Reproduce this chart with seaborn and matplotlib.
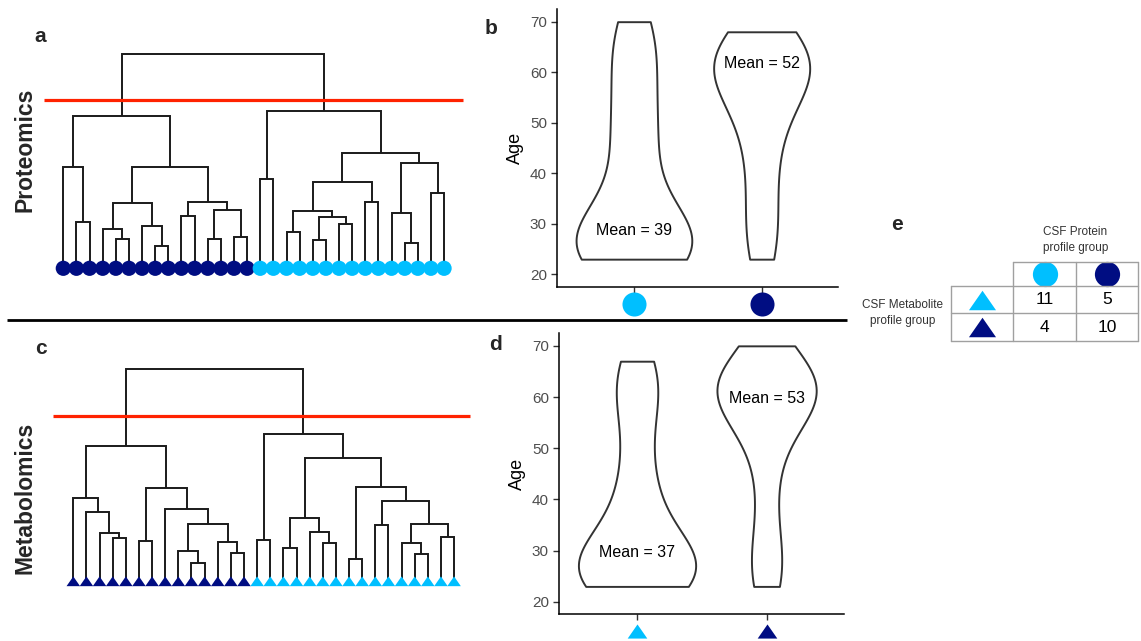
import numpy as np
import pandas as pd
import matplotlib
matplotlib.use("Agg")
import matplotlib.pyplot as plt
import matplotlib.transforms as mtransforms
import seaborn as sns

# ---------------- data ----------------
# Proteomics dendrogram (panel a): linkage rows [left, right, height]; leaves 0..29 in display order
prot_linkage = [
    [1, 2, 46], [0, 30, 101], [4, 5, 29.3], [3, 32, 39.3], [7, 8, 22.7],
    [6, 34, 42.7], [33, 35, 65], [9, 10, 52.7], [11, 12, 29.3], [13, 14, 31.7],
    [38, 39, 58.3], [37, 40, 66.7], [36, 41, 101.7], [31, 42, 152.3], [15, 16, 89.3],
    [17, 18, 36], [19, 20, 28.3], [21, 22, 44], [46, 47, 51], [45, 48, 57.3],
    [23, 24, 66], [49, 50, 86], [26, 27, 25], [25, 52, 55], [28, 29, 75],
    [53, 54, 105], [51, 55, 115], [44, 56, 157.3], [43, 57, 214],
]
prot_leaf_group = ["dark"] * 15 + ["light"] * 15
prot_cut = 168

# Metabolomics dendrogram (panel c)
met_linkage = [
    [3, 4, 43], [2, 30, 48.7], [1, 31, 69], [0, 32, 83], [5, 6, 40.3],
    [9, 10, 18], [8, 35, 30.3], [12, 13, 28.7], [11, 37, 39.7], [36, 38, 57],
    [7, 39, 72], [34, 40, 93.7], [33, 41, 135.7], [14, 15, 41.3], [16, 17, 33.7],
    [19, 20, 38], [18, 45, 49.7], [44, 46, 63], [21, 22, 22], [23, 24, 56.7],
    [26, 27, 27.3], [25, 50, 38.7], [28, 29, 44], [51, 52, 57], [49, 53, 80.3],
    [48, 54, 94.7], [47, 55, 123.7], [43, 56, 147.3], [42, 57, 212.3],
]
met_leaf_group = ["dark"] * 14 + ["light"] * 16
met_cut = 165.7

# Ages per group (panels b and d)
prot_light_age = [23, 23, 24, 25, 26, 27, 28, 31, 36, 43, 48, 53, 60, 65, 70]
prot_dark_age = [23, 28, 34, 41, 47, 52, 55, 58, 60, 61, 62, 63, 64, 65, 68]
met_light_age = [23, 23, 24, 25, 26, 27, 28, 29, 31, 35, 40, 45, 53, 60, 63, 67]
met_dark_age = [23, 27, 34, 44, 52, 56, 58, 60, 61, 62, 63, 64, 66, 70]

group_order = ["light", "dark"]
age_ticks = [20, 30, 40, 50, 60, 70]

# Contingency table (panel e): rows = metabolite group, cols = protein group
table_counts = [[11, 5], [4, 10]]
table_col_title = "CSF Protein\nprofile group"
table_row_title = "CSF Metabolite\nprofile group"

# ---------------- style ----------------
LIGHT = "#00BFFF"
DARK = "#000D82"
RED = "#FF2200"
LINE = "#1A1A1A"
colors = {"light": LIGHT, "dark": DARK}

sns.set_style("ticks")
plt.rcParams["font.family"] = ["Liberation Sans", "DejaVu Sans"]

W, H = 1141, 641
fig = plt.figure(figsize=(W / 100, H / 100), dpi=100)
fig.patch.set_facecolor("white")


def add_px_axes(left, top, width, height):
    return fig.add_axes([left / W, 1 - (top + height) / H, width / W, height / H])


tri_verts = [(-1, -0.72), (1, -0.72), (0, 0.72), (-1, -0.72)]


def nrd0_factor(kde):
    """Silverman's rule of thumb (R's bw.nrd0) expressed as a gaussian_kde factor."""
    d = np.asarray(kde.dataset).ravel()
    sd = np.std(d, ddof=1)
    q1, q3 = np.percentile(d, [25, 75])
    lo = min(sd, (q3 - q1) / 1.34)
    return 0.9 * lo * len(d) ** (-0.2) / sd


def draw_dendro(ax, linkage, groups, cut, cut_x, marker, msize):
    n = len(groups)
    xs = {i: float(i) for i in range(n)}
    hs = {i: 0.0 for i in range(n)}
    for k, (a, b, h) in enumerate(linkage):
        xa, xb = xs[a], xs[b]
        ax.plot([xa, xa, xb, xb], [hs[a], h, h, hs[b]], color=LINE, lw=1.4,
                solid_joinstyle="miter", solid_capstyle="butt", zorder=2)
        xs[n + k] = (xa + xb) / 2
        hs[n + k] = h
    ax.plot(cut_x, [cut, cut], color=RED, lw=2.3, zorder=3, solid_capstyle="butt")
    leaf_df = pd.DataFrame({"x": np.arange(n), "y": np.zeros(n), "g": groups})
    sns.scatterplot(data=leaf_df, x="x", y="y", hue="g", palette=colors, marker=marker,
                    s=msize, linewidth=0, legend=False, ax=ax, zorder=4, clip_on=False)
    ax.set_axis_off()


# Panel a
ax_a = add_px_axes(30, 40, 445, 250)
ax_a.set_xlim((30 - 63.3) / 13.13, (475 - 63.3) / 13.13)
ax_a.set_ylim(268.3 - 290, 268.3 - 40)
draw_dendro(ax_a, prot_linkage, prot_leaf_group, prot_cut,
            [(44 - 63.3) / 13.13, (463 - 63.3) / 13.13], "o", 120)

# Panel c
ax_c = add_px_axes(30, 355, 450, 245)
ax_c.set_xlim((30 - 73.3) / 13.13, (480 - 73.3) / 13.13)
ax_c.set_ylim(581.3 - 600, 581.3 - 355)
draw_dendro(ax_c, met_linkage, met_leaf_group, met_cut,
            [(53 - 73.3) / 13.13, (470 - 73.3) / 13.13], tri_verts, 95)


def draw_violin(ax, light, dark, widths, marker, msize, mean_y, mark_y,
                adjusts=(0.85, 1.0)):
    for g, vals, wd, adj in zip(group_order, [light, dark], widths, adjusts):
        df = pd.DataFrame({"group": [g] * len(vals), "age": list(vals)})
        sns.violinplot(data=df, x="group", y="age", order=group_order, cut=0, inner=None,
                       color="white", linecolor="#333333", linewidth=1.4, width=wd,
                       density_norm="width", bw_method=nrd0_factor, bw_adjust=adj,
                       saturation=1, ax=ax)
    ax.set_xlim(-0.6, 1.6)
    ax.set_ylim(17.55, 72.45)
    ax.set_yticks(age_ticks)
    ax.set_xticks([0, 1])
    ax.set_xticklabels([])
    ax.set_xlabel("")
    ax.set_ylabel("Age", fontsize=13, color="black", labelpad=4)
    ax.tick_params(axis="both", colors="#333333", labelcolor="#4D4D4D", labelsize=11,
                   length=4, width=1)
    for s in ["left", "bottom"]:
        ax.spines[s].set_color("black")
        ax.spines[s].set_linewidth(1.1)
    sns.despine(ax=ax)
    for i, (vals, yy) in enumerate(zip([light, dark], mean_y)):
        ax.text(i, yy, f"Mean = {int(np.floor(np.mean(vals) + 0.5))}", ha="center",
                va="center", fontsize=11.5, color="black")
    trans = mtransforms.blended_transform_factory(ax.transData, ax.transAxes)
    for i, g in enumerate(group_order):
        ax.scatter([i], [mark_y], marker=marker, s=msize, color=colors[g], linewidth=0,
                   transform=trans, clip_on=False, zorder=5)


# Panel b
ax_b = add_px_axes(557.3, 9.3, 281, 277.4)
draw_violin(ax_b, prot_light_age, prot_dark_age, [0.906, 0.752], "o", 300, [28.7, 61.8],
            -(304 - 286.7) / 277.4)

# Panel d
ax_d = add_px_axes(559.3, 333.3, 285, 281)
draw_violin(ax_d, met_light_age, met_dark_age, [0.905, 0.766], tri_verts, 200, [29.7, 59.8],
            -(631 - 614.3) / 281)

# Overlay for labels, divider and table
ov = fig.add_axes([0, 0, 1, 1], zorder=-1)
ov.set_xlim(0, W)
ov.set_ylim(H, 0)
ov.set_axis_off()

for lab, (x, y) in {"a": (40, 36), "b": (491, 29), "c": (41, 349),
                    "d": (496, 345), "e": (897, 224)}.items():
    ov.text(x, y, lab, fontsize=15, fontweight="bold", ha="center", va="center")
ov.text(25, 150, "Proteomics", rotation=90, fontsize=16.5, fontweight="bold",
        ha="center", va="center")
ov.text(25, 498, "Metabolomics", rotation=90, fontsize=16.5, fontweight="bold",
        ha="center", va="center")

ov.plot([7, 847], [320, 320], color="black", lw=2, solid_capstyle="butt")

# Table
cx = [951, 1013, 1076, 1138]
ry = [262, 286, 313, 341]
gc = "#A0A0A0"
ov.plot([cx[1], cx[3]], [ry[0], ry[0]], color=gc, lw=1)
for y in ry[1:]:
    ov.plot([cx[0], cx[3]], [y, y], color=gc, lw=1)
for x in cx[1:]:
    ov.plot([x, x], [ry[0], ry[3]], color=gc, lw=1)
ov.plot([cx[0], cx[0]], [ry[1], ry[3]], color=gc, lw=1)

ov.text((cx[1] + cx[3]) / 2, 240, table_col_title, ha="center", va="center",
        fontsize=8.5, color="#333333", linespacing=1.35)
ov.text(903, 313, table_row_title, ha="center", va="center", fontsize=8.5,
        color="#333333", linespacing=1.35)

col_centers = [(cx[1] + cx[2]) / 2, (cx[2] + cx[3]) / 2]
row_centers = [(ry[1] + ry[2]) / 2, (ry[2] + ry[3]) / 2]
head_y = (ry[0] + ry[1]) / 2
for j, g in enumerate(group_order):
    ov.scatter([col_centers[j]], [head_y], marker="o", s=330, color=colors[g], linewidth=0)
    ov.scatter([(cx[0] + cx[1]) / 2], [row_centers[j]], marker=tri_verts, s=380,
               color=colors[g], linewidth=0)
for i in range(2):
    for j in range(2):
        ov.text(col_centers[j], row_centers[i], str(table_counts[i][j]), ha="center",
                va="center", fontsize=12.5, color="black")

fig.savefig("out.png", dpi=100, facecolor="white")
